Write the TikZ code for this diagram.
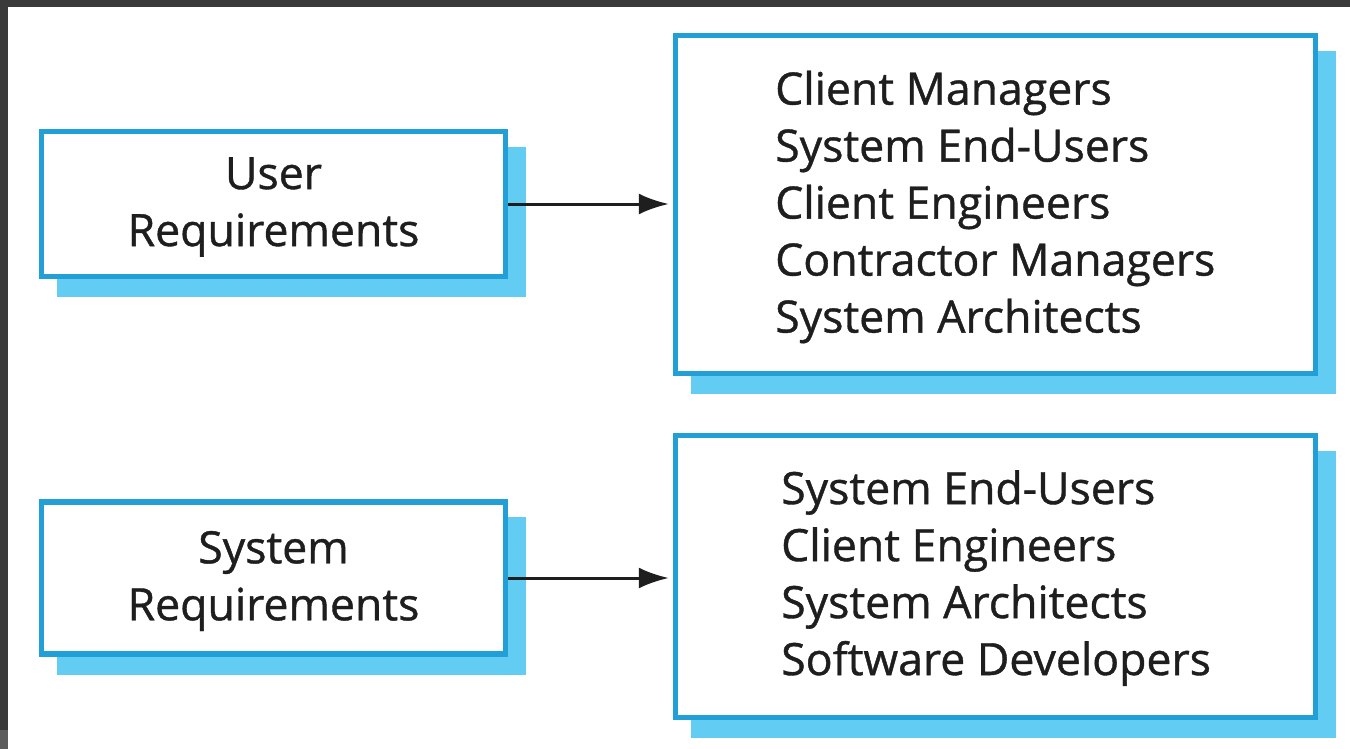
\documentclass[tikz,border=0pt]{standalone}
\usepackage{fontspec}
\setmainfont{Open Sans}[FakeBold=0.9]
\usetikzlibrary{arrows.meta}
\definecolor{frame}{HTML}{3A3A3A}
\definecolor{framelow}{HTML}{5C5C5C}
\definecolor{boxblue}{HTML}{229FD6}
\definecolor{shadowblue}{HTML}{62CCF2}
\definecolor{ink}{HTML}{1E1E1E}
\pgfdeclarelayer{shade}
\pgfdeclarelayer{bg}
\pgfsetlayers{bg,shade,main}
\tikzset{
  reqbox/.style={draw=boxblue, line width=5.5pt, fill=white, inner sep=0pt, rectangle},
  label/.style={text=ink, font=\fontsize{44.6}{57}\selectfont, inner sep=0pt},
  flow/.style={draw=ink, line width=3pt, -{Latex[length=30pt,width=21pt]}, shorten >=4pt}
}
\newcommand{\boxshadow}[1]{%
  \begin{pgfonlayer}{shade}
    \fill[shadowblue] ([shift={(18,18)}]#1.north west) rectangle ([shift={(18,18)}]#1.south east);
  \end{pgfonlayer}}
\begin{document}
\begin{tikzpicture}[x=1pt,y=-1pt]
  \useasboundingbox (0,0) rectangle (1350,749);
  \begin{pgfonlayer}{bg}
    \fill[white] (0,0) rectangle (1350,749);
    \fill[frame] (0,0) rectangle (1350,7);
    \fill[frame] (0,0) rectangle (8,730);
    \fill[framelow] (0,730) rectangle (8,749);
  \end{pgfonlayer}

  % requirement boxes
  \node[reqbox, minimum width=464pt, minimum height=145pt] (ureq) at (273.5,204) {};
  \node[reqbox, minimum width=464pt, minimum height=152pt] (sreq) at (273.5,578) {};
  \node[reqbox, minimum width=640pt, minimum height=338pt] (ureaders) at (995.5,204.5) {};
  \node[reqbox, minimum width=640pt, minimum height=282pt] (sreaders) at (995.5,576.5) {};
  \boxshadow{ureq}
  \boxshadow{sreq}
  \boxshadow{ureaders}
  \boxshadow{sreaders}

  % box texts
  \node[label, align=center] at ([yshift=-3]ureq.center) {User\\Requirements};
  \node[label, align=center] at ([yshift=-3]sreq.center) {System\\Requirements};
  \node[label, align=left, anchor=west] at (775,207) {Client Managers\\System End-Users\\Client Engineers\\Contractor Managers\\System Architects};
  \node[label, align=left, anchor=west] at (781,578) {System End-Users\\Client Engineers\\System Architects\\Software Developers};

  % connectors
  \draw[flow] (ureq.east) -- (ureq.east -| ureaders.west);
  \draw[flow] (sreq.east) -- (sreq.east -| sreaders.west);
\end{tikzpicture}
\end{document}
